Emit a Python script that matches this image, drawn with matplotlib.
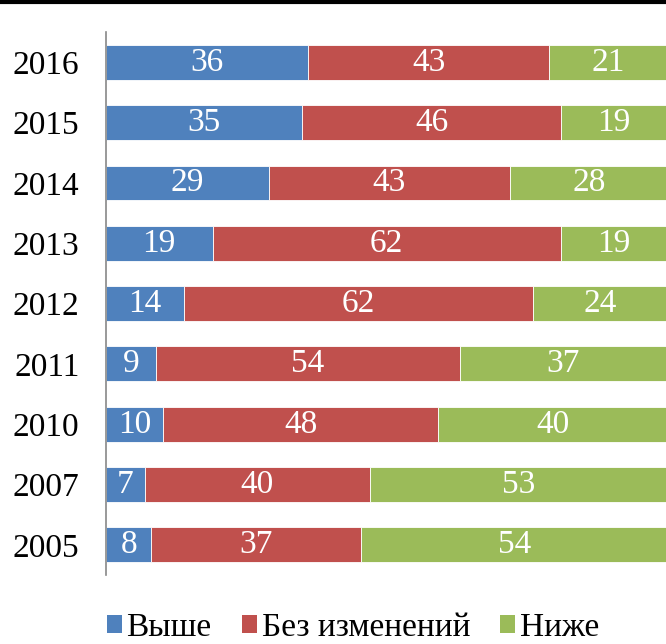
import numpy as np
import matplotlib.pyplot as plt
from matplotlib.patches import Patch
from matplotlib.lines import Line2D

years = ['2016', '2015', '2014', '2013', '2012', '2011', '2010', '2007', '2005']
vyshe = np.array([36, 35, 29, 19, 14, 9, 10, 7, 8])
bez = np.array([43, 46, 43, 62, 62, 54, 48, 40, 37])
nizhe = np.array([21, 19, 28, 19, 24, 37, 40, 53, 54])
names = ['Выше', 'Без изменений', 'Ниже']
colors = ['#4F81BD', '#C0504D', '#9BBB59']

plt.rcParams['font.family'] = ['Liberation Serif', 'DejaVu Serif']

# 100% stacked: each row scaled to its total
total = vyshe + bez + nizhe

fig = plt.figure(figsize=(6.66, 6.44), dpi=100)
ax = fig.add_axes([0.159, 0.107, 0.843, 0.843])

y = np.arange(len(years))
left = np.zeros(len(years))
for vals, col in zip([vyshe, bez, nizhe], colors):
    share = vals / total * 100
    bars = ax.barh(y, share, left=left, height=0.58, color=col,
                   edgecolor='white', linewidth=0.6)
    ax.bar_label(bars, labels=[str(v) for v in vals], label_type='center',
                 color='white', fontsize=24)
    left = left + share

ax.set_xlim(0, 100)
ax.set_ylim(len(years) - 0.5, -0.5)
ax.set_yticks(y)
ax.set_yticklabels(years, fontsize=24)
ax.tick_params(axis='y', length=0, pad=19)
ax.set_xticks([])
for s in ['top', 'right', 'bottom']:
    ax.spines[s].set_visible(False)
ax.spines['left'].set_color('#888888')
ax.spines['left'].set_linewidth(1.2)

fig.add_artist(Line2D([0, 1], [0.997, 0.997], color='black', linewidth=3,
                      transform=fig.transFigure))

handles = [Patch(facecolor=c, edgecolor='none') for c in colors]
fig.legend(handles, names, loc='center', bbox_to_anchor=(0.53, 0.025), ncol=3,
           frameon=False, fontsize=24, handlelength=0.45, handleheight=0.45,
           handletextpad=0.15, columnspacing=0.9, borderpad=0.1)

fig.savefig('out.png', dpi=100)
